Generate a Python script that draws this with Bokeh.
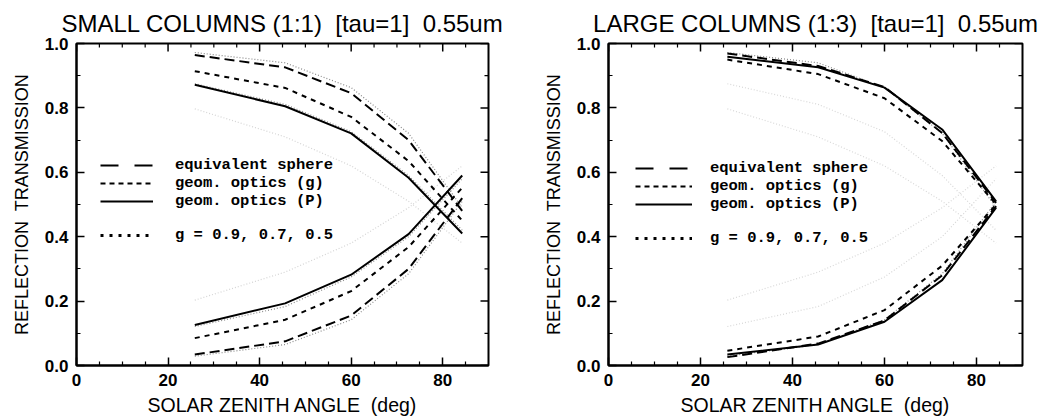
from bokeh.plotting import figure
from bokeh.models import (LinearAxis, Range1d, Legend, LegendItem, FixedTicker,
                          PrintfTickFormatter)
from bokeh.layouts import row
from bokeh.embed import file_html
from bokeh.resources import INLINE

# ---------------- data ----------------
ANGLES = [25.84, 45.57, 60.0, 72.54, 84.26]   # solar zenith angle (deg)

# small columns (1:1)
SMALL_EQ_T = [0.964, 0.926, 0.846, 0.700, 0.480]
SMALL_EQ_R = [0.034, 0.075, 0.155, 0.300, 0.520]
SMALL_G_T = [0.914, 0.862, 0.772, 0.635, 0.450]
SMALL_G_R = [0.085, 0.142, 0.231, 0.368, 0.552]
SMALL_P_T = [0.872, 0.805, 0.721, 0.583, 0.410]
SMALL_P_R = [0.126, 0.193, 0.282, 0.408, 0.590]

# large columns (1:3)
LARGE_EQ_T = [0.969, 0.930, 0.865, 0.722, 0.505]
LARGE_EQ_R = [0.026, 0.068, 0.140, 0.280, 0.495]
LARGE_G_T = [0.950, 0.905, 0.830, 0.697, 0.500]
LARGE_G_R = [0.046, 0.090, 0.172, 0.310, 0.500]
LARGE_P_T = [0.959, 0.926, 0.863, 0.733, 0.510]
LARGE_P_R = [0.034, 0.065, 0.136, 0.265, 0.490]

# Henyey-Greenstein runs, g = 0.9, 0.7, 0.5 (same in both panels)
HG09_T = [0.972, 0.940, 0.863, 0.721, 0.490]
HG09_R = [0.029, 0.065, 0.142, 0.285, 0.510]
HG07_T = [0.875, 0.811, 0.726, 0.590, 0.420]
HG07_R = [0.121, 0.183, 0.275, 0.400, 0.580]
HG05_T = [0.797, 0.710, 0.620, 0.510, 0.380]
HG05_R = [0.203, 0.290, 0.380, 0.490, 0.620]

NB = "\u00a0 "   # double space that survives SVG whitespace collapsing
TITLES = ["SMALL COLUMNS (1:1)" + NB + "[tau=1]" + NB + "0.55um",
          "LARGE COLUMNS (1:3)" + NB + "[tau=1]" + NB + "0.55um"]
LEGEND_LABELS = ["equivalent sphere", "geom. optics (g)", "geom. optics (P)",
                 "g = 0.9, 0.7, 0.5"]
X_LABEL = "SOLAR ZENITH ANGLE" + NB + "(deg)"
Y_LABEL = "REFLECTION" + NB + "TRANSMISSION"
X_TICKS = [0, 20, 40, 60, 80]
X_MINOR = [5, 10, 15, 25, 30, 35, 45, 50, 55, 65, 70, 75, 85]
Y_TICKS = [0.0, 0.2, 0.4, 0.6, 0.8, 1.0]
Y_MINOR = [0.1, 0.3, 0.5, 0.7, 0.9]

SANS = "Liberation Sans"
MONO = "Liberation Mono"
NAN = float("nan")


def style_axis(ax):
    ax.axis_line_width = 2
    ax.axis_line_color = "black"
    ax.major_tick_in = 8
    ax.major_tick_out = 0
    ax.minor_tick_in = 4
    ax.minor_tick_out = 0
    ax.major_tick_line_width = 1.5
    ax.minor_tick_line_width = 1.2
    ax.major_tick_line_color = "black"
    ax.minor_tick_line_color = "black"
    ax.major_label_text_font = SANS
    ax.major_label_text_font_size = "17px"
    ax.major_label_text_font_style = "bold"
    ax.major_label_text_color = "black"
    ax.axis_label_text_font = SANS
    ax.axis_label_text_font_style = "normal"
    ax.axis_label_text_color = "black"


def make_panel(title, width, bl, br, fw, curves, dot_colors, leg_loc,
               glyph_w, standoff):
    p = figure(width=width, height=418, x_range=Range1d(0, 90),
               y_range=Range1d(0, 1), x_axis_type=None, y_axis_type=None,
               output_backend="svg", toolbar_location=None,
               min_border_left=bl, min_border_right=br, min_border_top=43,
               min_border_bottom=50)
    p.outline_line_color = "black"
    p.outline_line_width = 2
    p.background_fill_color = "white"
    p.border_fill_color = "white"
    p.title.text = title
    p.title.text_font = SANS
    p.title.text_font_size = "24px"
    p.title.text_font_style = "normal"
    p.title.align = "center"
    p.title.text_color = "black"
    p.title.standoff = 13

    xt = FixedTicker(ticks=X_TICKS, minor_ticks=X_MINOR)
    yt = FixedTicker(ticks=Y_TICKS, minor_ticks=Y_MINOR)
    xb = LinearAxis(ticker=xt, axis_label=X_LABEL)
    yl = LinearAxis(ticker=yt, axis_label=Y_LABEL,
                    formatter=PrintfTickFormatter(format="%.1f"))
    style_axis(xb)
    style_axis(yl)
    xb.axis_label_text_font_size = "19.5px"
    yl.axis_label_text_font_size = "18px"
    xb.major_label_standoff = 8
    yl.major_label_standoff = 8
    yl.axis_label_standoff = 10
    xb.axis_label_standoff = 5
    p.add_layout(xb, "below")
    p.add_layout(yl, "left")

    # tick marks on the top and right edges of the box (from the tick lists)
    ty_major = 8 / 325.0
    ty_minor = 4 / 325.0
    tx_major = 8 / fw * 90
    tx_minor = 4 / fw * 90
    p.segment(x0=X_TICKS, x1=X_TICKS, y0=[1.0] * len(X_TICKS),
              y1=[1.0 - ty_major] * len(X_TICKS), line_color="black", line_width=1.5)
    p.segment(x0=X_MINOR, x1=X_MINOR, y0=[1.0] * len(X_MINOR),
              y1=[1.0 - ty_minor] * len(X_MINOR), line_color="black", line_width=1.2)
    p.segment(x0=[90] * len(Y_TICKS), x1=[90 - tx_major] * len(Y_TICKS),
              y0=Y_TICKS, y1=Y_TICKS, line_color="black", line_width=1.5)
    p.segment(x0=[90] * len(Y_MINOR), x1=[90 - tx_minor] * len(Y_MINOR),
              y0=Y_MINOR, y1=Y_MINOR, line_color="black", line_width=1.2)

    # dotted HG curves (underneath)
    dots = [(HG09_T, HG09_R), (HG07_T, HG07_R), (HG05_T, HG05_R)]
    for (t, r), col in zip(dots, dot_colors):
        p.line(ANGLES, t, line_color=col, line_width=1.2, line_dash="1 2")
        p.line(ANGLES, r, line_color=col, line_width=1.2, line_dash="1 2")

    eq_t, eq_r, g_t, g_r, p_t, p_r = curves
    for arr in (eq_t, eq_r):
        p.line(ANGLES, arr, line_color="black", line_width=2, line_dash="10 5")
    for arr in (g_t, g_r):
        p.line(ANGLES, arr, line_color="black", line_width=2, line_dash="5 5")
    for arr in (p_t, p_r):
        p.line(ANGLES, arr, line_color="black", line_width=2)

    # legend sample renderers (NaN data: nothing drawn in the plot)
    r_eq = p.line([NAN], [NAN], line_color="black", line_width=2, line_dash="18 16")
    r_g = p.line([NAN], [NAN], line_color="black", line_width=2, line_dash="5 4")
    r_p = p.line([NAN], [NAN], line_color="black", line_width=2)
    r_blank = p.line([NAN], [NAN], line_alpha=0)
    r_dot = p.line([NAN], [NAN], line_color="black", line_width=3, line_dash="3 6")
    items = [LegendItem(label=LEGEND_LABELS[0], renderers=[r_eq]),
             LegendItem(label=LEGEND_LABELS[1], renderers=[r_g]),
             LegendItem(label=LEGEND_LABELS[2], renderers=[r_p]),
             LegendItem(label=" ", renderers=[r_blank]),
             LegendItem(label=LEGEND_LABELS[3], renderers=[r_dot])]
    leg = Legend(items=items, location=leg_loc, glyph_width=glyph_w,
                 glyph_height=16, label_height=16, label_standoff=standoff,
                 spacing=0, padding=0, margin=0,
                 label_text_font=MONO, label_text_font_size="15.5px",
                 label_text_font_style="bold", label_text_color="black",
                 background_fill_alpha=0, border_line_alpha=0)
    p.add_layout(leg, "center")
    return p


left = make_panel(TITLES[0], 538, 76, 50, 412,
                  (SMALL_EQ_T, SMALL_EQ_R, SMALL_G_T, SMALL_G_R, SMALL_P_T, SMALL_P_R),
                  ["#8a8a8a", "#8a8a8a", "#d4d4d4"], (24, 121), 53, 22)
right = make_panel(TITLES[1], 518, 70, 34, 414,
                   (LARGE_EQ_T, LARGE_EQ_R, LARGE_G_T, LARGE_G_R, LARGE_P_T, LARGE_P_R),
                   ["#8a8a8a", "#d8d8d8", "#d8d8d8"], (27, 118), 57, 18)

layout = row(left, right)
open("out.html", "w").write(file_html(layout, INLINE))
